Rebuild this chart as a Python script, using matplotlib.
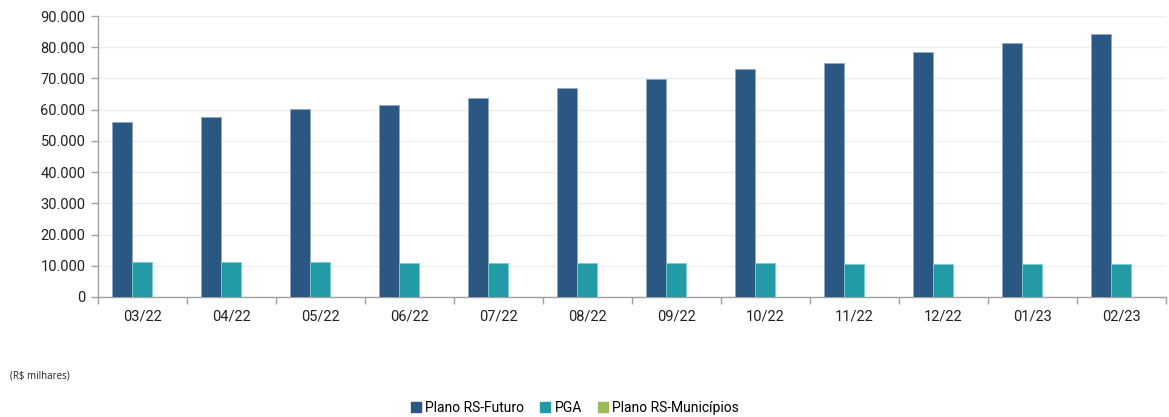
import matplotlib
matplotlib.use("Agg")
import matplotlib.pyplot as plt
import numpy as np
from matplotlib.ticker import FuncFormatter, FixedLocator
from matplotlib.patches import Patch

categories = ["03/22", "04/22", "05/22", "06/22", "07/22", "08/22", "09/22",
              "10/22", "11/22", "12/22", "01/23", "02/23"]
rs_futuro = [56100, 57800, 60300, 61500, 63700, 66900, 69800, 73000, 74900, 78600, 81300, 84100]
pga = [11200, 11200, 11100, 11000, 10900, 10900, 10900, 10800, 10700, 10600, 10500, 10500]
rs_municipios = [0, 0, 0, 0, 0, 0, 0, 0, 0, 0, 0, 0]

c_blue = "#2B5783"
c_teal = "#239BA7"
c_green = "#9BBB59"

plt.rcParams['font.family'] = ['Roboto', 'DejaVu Sans']

fig = plt.figure(figsize=(11.69, 4.17), dpi=100)
ax = fig.add_axes([0.0838, 0.2878, 0.9136, 0.6738])

x = np.arange(len(categories))
w = 0.225
ax.bar(x - w, rs_futuro, w, color=c_blue, edgecolor="#8FA8C4", linewidth=0.6, zorder=3)
ax.bar(x, pga, w, color=c_teal, edgecolor="#7FCCD3", linewidth=0.6, zorder=3)
ax.bar(x + w, rs_municipios, w, color=c_green, zorder=3)

ax.set_xlim(-0.5, len(categories) - 0.5)
ax.set_ylim(0, 90000)
ax.set_yticks(np.arange(0, 90001, 10000))
ax.yaxis.set_major_formatter(FuncFormatter(lambda v, p: f"{int(v):,}".replace(",", ".")))
ax.grid(axis="y", color="#EFEFEF", linewidth=1, zorder=0)

ax.set_xticks(x)
ax.set_xticklabels(categories)
ax.xaxis.set_minor_locator(FixedLocator(np.arange(-0.5, len(categories) + 0.5, 1)))
ax.tick_params(axis="x", which="major", length=0, pad=9, labelsize=10.5, labelcolor="#222222")
ax.tick_params(axis="x", which="minor", length=5, color="#A0A0A0", width=1)
ax.tick_params(axis="y", length=5, color="#A0A0A0", width=1, labelsize=10.5, labelcolor="#222222", pad=4)

for s in ["top", "right"]:
    ax.spines[s].set_visible(False)
for s in ["left", "bottom"]:
    ax.spines[s].set_color("#A0A0A0")
    ax.spines[s].set_linewidth(1)

fig.text(10 / 1169, 1 - 376 / 417, "(R$ milhares)", fontsize=7, family=["Open Sans", "DejaVu Sans"],
         va="center", ha="left", color="#222222")

handles = [Patch(color=c_blue, label="Plano RS-Futuro"),
           Patch(color=c_teal, label="PGA"),
           Patch(color=c_green, label="Plano RS-Municípios")]
fig.legend(handles=handles, loc="center", bbox_to_anchor=(575 / 1169, 1 - 408 / 417), ncol=3,
           frameon=False, fontsize=10, handlelength=0.7, handleheight=0.7, handletextpad=0.3,
           columnspacing=1.2)

fig.savefig("out.png", dpi=100)
